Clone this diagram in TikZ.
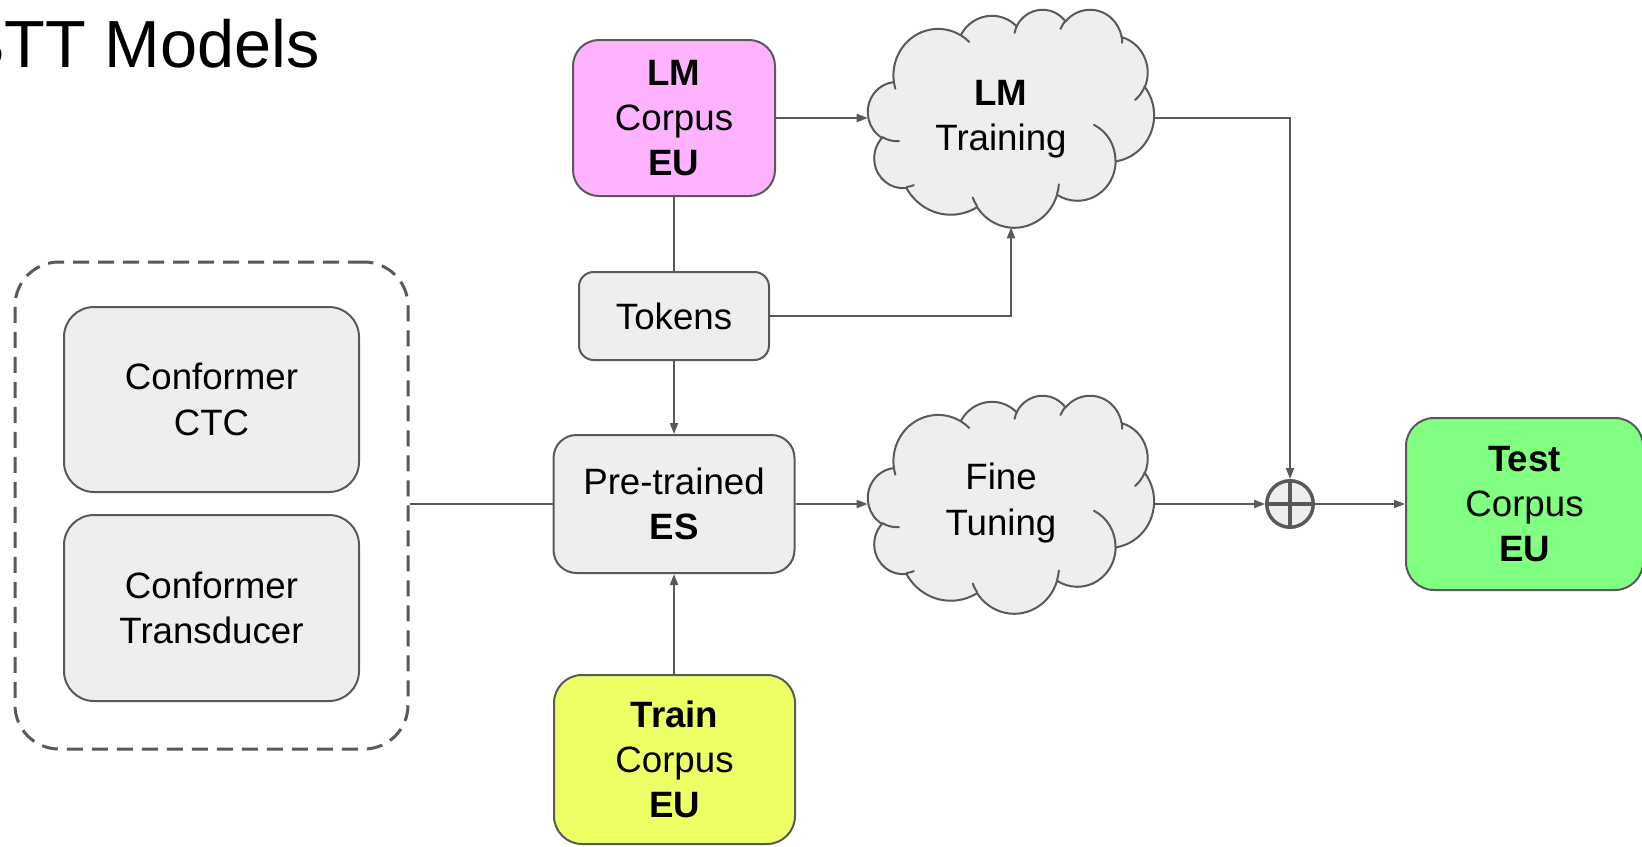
\documentclass[tikz,border=0pt]{standalone}
\usepackage{fontspec}
\setmainfont{Liberation Sans}
\usetikzlibrary{arrows.meta}
\definecolor{linegray}{HTML}{595959}
\definecolor{boxgray}{HTML}{EEEEEE}
\definecolor{lmpink}{HTML}{FFB3FF}
\definecolor{trainyellow}{HTML}{EEFF66}
\definecolor{testgreen}{HTML}{80FF80}
\newcommand\bodysize{\fontsize{27.5pt}{34pt}\selectfont}
% --- cloud outline (preset "cloud" path, in units of 1/100 of the 43200 grid) ---
\newcommand\addcloudarc[5]{%
  \pgfmathsetmacro\cloudta{atan2((#2)*sin(#4),(#3)*cos(#4))}%
  \pgfmathsetmacro\cloudtb{atan2((#2)*sin((#4)+(#5)),(#3)*cos((#4)+(#5)))}%
  \pgfmathsetmacro\cloudtb{ifthenelse(\cloudtb<\cloudta,\cloudtb+360,\cloudtb)}%
  \xdef#1{#1 arc[x radius=#2, y radius=#3, start angle=\cloudta, end angle=\cloudtb]}%
}
\newcommand\addcloudinner[6]{%
  \xdef\cloudinner{\cloudinner (#1,#2)}%
  \addcloudarc\cloudinner{#3}{#4}{#5}{#6}%
}
\gdef\cloudouter{(39.00,143.70)}
\addcloudarc\cloudouter{67.53}{91.90}{-190.4875}{123.7805}
\addcloudarc\cloudouter{53.33}{72.67}{-144.1024}{89.9452}
\addcloudarc\cloudouter{43.65}{59.45}{-145.8079}{99.7230}
\addcloudarc\cloudouter{48.57}{65.95}{-130.9861}{117.2417}
\addcloudarc\cloudouter{53.33}{72.73}{-78.7089}{109.0269}
\addcloudarc\cloudouter{67.75}{92.20}{-46.2673}{130.2690}
\addcloudarc\cloudouter{57.85}{78.67}{0.6250}{114.0333}
\addcloudarc\cloudouter{67.52}{92.15}{22.4516}{115.1726}
\addcloudarc\cloudouter{77.20}{105.43}{66.2426}{75.7110}
\addcloudarc\cloudouter{43.60}{59.18}{-274.9421}{146.7356}
\addcloudarc\cloudouter{43.45}{59.45}{-246.8285}{152.5189}
\gdef\cloudinner{}
\addcloudinner{46.93}{261.77}{43.45}{59.45}{86.7420}{26.4295}
\addcloudinner{69.28}{348.99}{43.60}{59.18}{73.6105}{11.4475}
\addcloudinner{164.78}{390.90}{67.52}{92.15}{137.6242}{14.0811}
\addcloudinner{288.27}{347.51}{67.52}{92.15}{6.4533}{15.9984}
\addcloudinner{341.29}{229.54}{57.85}{78.67}{-70.2924}{70.9174}
\addcloudinner{417.98}{153.54}{53.33}{72.73}{30.3180}{27.7515}
\addcloudinner{383.24}{54.26}{48.57}{65.95}{-13.7443}{14.8589}
\addcloudinner{290.78}{39.52}{48.57}{65.95}{-149.1815}{18.1954}
\addcloudinner{221.41}{47.20}{43.65}{59.45}{-163.4943}{17.6864}
\addcloudinner{140.00}{51.92}{67.53}{91.90}{-66.7070}{12.3194}
\addcloudinner{41.27}{157.89}{67.53}{91.90}{157.6544}{11.8582}
\newcommand\drawcloud[4]{%
  \begin{scope}[shift={(#1,#2)}, xscale=#3/432, yscale=#4/432]
    \edef\cloudtmp{\noexpand\path[cloudbody] \cloudouter -- cycle;}\cloudtmp
    \edef\cloudtmp{\noexpand\path[cloudline] \cloudinner;}\cloudtmp
  \end{scope}%
}
\tikzset{
  box/.style={draw=linegray, line width=1.5pt, fill=boxgray, rounded corners=#1,
    align=center, inner sep=0pt, font=\bodysize},
  txt/.style={align=center, inner sep=0pt, font=\bodysize},
  dashbox/.style={draw=linegray, line width=2.25pt, rounded corners=33pt,
    dash pattern=on 12pt off 6.75pt},
  cloudbody/.style={draw=linegray, line width=1.5pt, fill=boxgray, line join=round},
  cloudline/.style={draw=linegray, line width=1.5pt, line cap=round},
  cloudbox/.style={inner sep=0pt, minimum width=214.5pt, minimum height=163.5pt},
  conn/.style={draw=linegray, line width=1.5pt},
  arr/.style={conn, -{Triangle[length=8.25pt, width=6pt]}},
}
\begin{document}
\begin{tikzpicture}[x=0.75pt, y=-0.75pt]
\useasboundingbox (0,0) rectangle (1642,846);
% title
\node[anchor=base east, inner sep=0pt, font=\fontsize{50pt}{60pt}\selectfont] (title) at (320,67) {STT Models};
% model group
\node[box=22.5pt, minimum width=221.25pt, minimum height=138.75pt] (ctc) at (211.5,399.5) {Conformer\\CTC};
\node[box=22.5pt, minimum width=221.25pt, minimum height=139.5pt] (trans) at (211.5,608) {Conformer\\Transducer};
\node[dashbox, minimum width=294.75pt, minimum height=365.25pt] (models) at (211.5,505.5) {};
% main boxes
\node[box=19.5pt, fill=lmpink, minimum width=151.5pt, minimum height=117pt] (lmc) at (674,118) {\textbf{LM}\\Corpus\\\textbf{EU}};
\node[box=11pt, minimum width=142.5pt, minimum height=66pt] (tok) at (674,316) {Tokens};
\node[box=17.25pt, minimum width=180.75pt, minimum height=103.5pt] (pre) at (674,504) {Pre-trained\\\textbf{ES}};
\node[box=21pt, fill=trainyellow, minimum width=180.75pt, minimum height=126.75pt] (train) at (674.5,759.5) {\textbf{Train}\\Corpus\\\textbf{EU}};
\node[box=21pt, fill=testgreen, minimum width=177.75pt, minimum height=129pt] (test) at (1524.5,504) {\textbf{Test}\\Corpus\\\textbf{EU}};
% clouds
\drawcloud{868}{9}{286}{218}
\drawcloud{868}{395}{286}{218}
\node[cloudbox] (lmt) at (1011,118) {};
\node[cloudbox] (ft) at (1011,504) {};
\node[txt] (lmtlabel) at (1001,119.5) {\textbf{LM}\\Training};
\node[txt] (ftlabel) at (1001,503) {Fine\\Tuning};
% sum
\node[draw=linegray, line width=2.6pt, fill=boxgray, circle, minimum size=34.9pt, inner sep=0pt] (plus) at (1290,504) {};
\draw[linegray, line width=2.6pt] (plus.north) -- (plus.south) (plus.west) -- (plus.east);
% connectors
\draw[arr] (lmc.east) -- (lmt.west);
\draw[conn] (lmc.south) -- (tok.north);
\draw[arr] (tok.east) -| (lmt.south);
\draw[arr] (tok.south) -- (pre.north);
\draw[arr] (train.north -| pre.south) -- (pre.south);
\draw[arr] (pre.east) -- (ft.west);
\draw[arr] (lmt.east) -| (plus.north);
\draw[arr] (ft.east) -- (plus.west);
\draw[arr] (plus.east) -- (test.west);
\draw[conn] (models.east |- pre.west) -- (pre.west);
\end{tikzpicture}
\end{document}
